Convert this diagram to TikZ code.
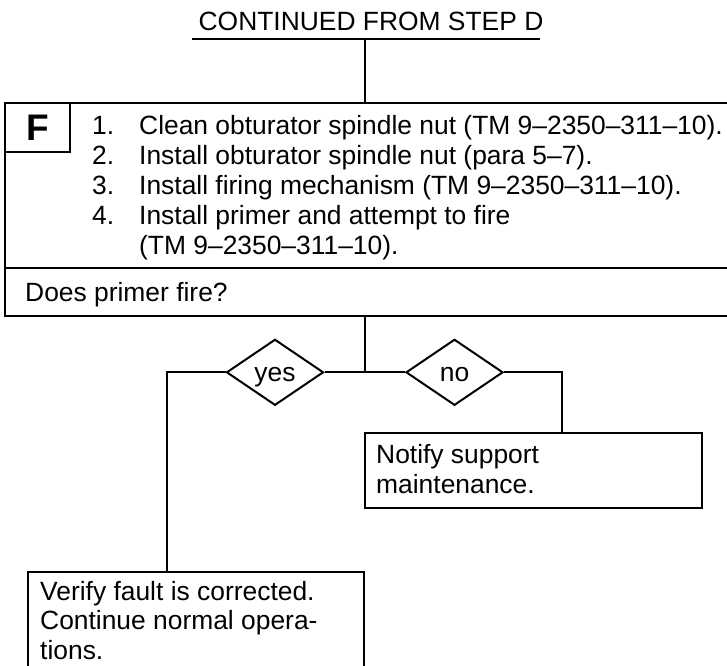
\documentclass[tikz,border=0pt]{standalone}
\usepackage{fontspec}
\setmainfont{Liberation Sans}
\usetikzlibrary{shapes.geometric}
\tikzset{
  boxst/.style={draw, line width=2pt, rectangle, inner sep=0pt},
  txt/.style={anchor=base west, inner sep=0pt, font=\fontsize{26.4}{30}\selectfont},
  dia/.style={draw, line width=2pt, diamond, inner sep=0pt, minimum width=97pt, minimum height=66pt,
    text height=20pt, text depth=2.6pt, font=\fontsize{26.4}{30}\selectfont},
}
\begin{document}
\begin{tikzpicture}[x=1pt,y=-1pt]
\useasboundingbox (0,0) rectangle (727,665);
% title
\node[txt, anchor=base] (title) at (371,30.7) {CONTINUED FROM STEP D};
\coordinate (ulL) at (192,39.3);
\coordinate (ulR) at (540,39.3);
\coordinate (ulM) at (364.5,39.3);
\draw[line width=2pt] (ulL) -- (ulR);
% main step box
\node[boxst, minimum width=740pt, minimum height=212.4pt] (stepbox) at (375,209.5) {};
\coordinate (sepy) at (0,268.3);
\draw[line width=2pt] (stepbox.west |- sepy) -- (stepbox.east |- sepy);
\node[boxst, minimum width=65pt, minimum height=49pt, font=\fontsize{37}{40}\selectfont\bfseries] (fbox) at (37.5,127.8) {F};
\draw[line width=2pt] (ulM) -- (stepbox.north -| ulM);
% list
\node[txt] (n1) at (92,134.3) {1.};
\node[txt] (t1) at (139,134.3) {Clean obturator spindle nut (TM 9–2350–311–10).};
\node[txt] (n2) at (92,164.3) {2.};
\node[txt] (t2) at (139,164.3) {Install obturator spindle nut (para 5–7).};
\node[txt] (n3) at (92,194.3) {3.};
\node[txt] (t3) at (139,194.3) {Install firing mechanism (TM 9–2350–311–10).};
\node[txt] (n4) at (92,224.3) {4.};
\node[txt] (t4) at (139,224.3) {Install primer and attempt to fire};
\node[txt] (t5) at (139,254.3) {(TM 9–2350–311–10).};
\node[txt] (q) at (25,301.5) {Does primer fire?};
% decision
\coordinate (j) at (364.5,372.3);
\draw[line width=2pt] (stepbox.south -| j) -- (j);
\node[dia] (yes) at (275,372.3) {yes};
\node[dia] (no) at (454.5,372.3) {no};
\draw[line width=2pt] (yes.east) -- (no.west);
% result boxes
\node[boxst, minimum width=336.5pt, minimum height=75.3pt] (notify) at (533.25,470.65) {};
\node[txt] (nt1) at (376,463.5) {Notify support};
\node[txt] (nt2) at (376,493) {maintenance.};
\node[boxst, minimum width=335.7pt, minimum height=140pt] (verify) at (196.15,641.7) {};
\node[txt] (vt1) at (40,600) {Verify fault is corrected.};
\node[txt] (vt2) at (40,629.5) {Continue normal opera-};
\node[txt] (vt3) at (40,659) {tions.};
\coordinate (yesdrop) at (167,0);
\coordinate (nodrop) at (562,0);
\draw[line width=2pt] (yes.west) -| (yesdrop |- verify.north);
\draw[line width=2pt] (no.east) -| (nodrop |- notify.north);
\end{tikzpicture}
\end{document}
